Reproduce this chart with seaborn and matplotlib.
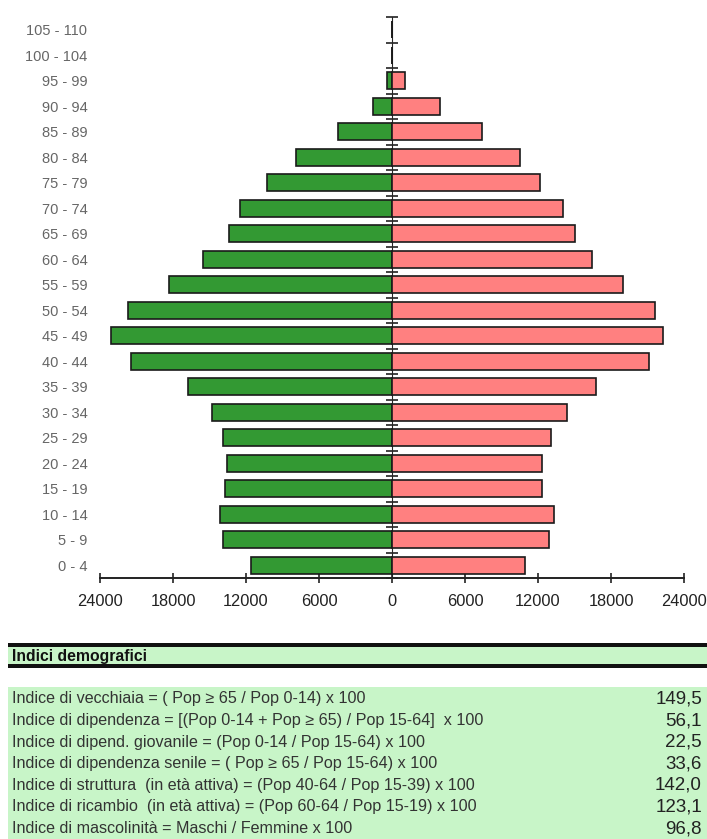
import pandas as pd
import matplotlib.pyplot as plt
import matplotlib.patches as patches
import seaborn as sns

# age classes, top to bottom
age_classes = ["105 - 110", "100 - 104", "95 - 99", "90 - 94", "85 - 89", "80 - 84",
               "75 - 79", "70 - 74", "65 - 69", "60 - 64", "55 - 59", "50 - 54",
               "45 - 49", "40 - 44", "35 - 39", "30 - 34", "25 - 29", "20 - 24",
               "15 - 19", "10 - 14", "5 - 9", "0 - 4"]
maschi = [0, 0, 410, 1560, 4440, 7890, 10270, 12490, 13390, 15530, 18320, 21700,
          23090, 21450, 16760, 14790, 13890, 13560, 13720, 14130, 13890, 11590]
femmine = [0, 0, 1085, 3930, 7380, 10500, 12150, 14070, 15000, 16450, 19000, 21600,
           22310, 21100, 16780, 14360, 13050, 12310, 12310, 13330, 12880, 10950]
x_ticks = [-24000, -18000, -12000, -6000, 0, 6000, 12000, 18000, 24000]

table_title = "Indici demografici"
index_labels = [
    "Indice di vecchiaia = ( Pop \u2265 65 / Pop 0-14) x 100",
    "Indice di dipendenza = [(Pop 0-14 + Pop \u2265 65) / Pop 15-64]  x 100",
    "Indice di dipend. giovanile = (Pop 0-14 / Pop 15-64) x 100",
    "Indice di dipendenza senile = ( Pop \u2265 65 / Pop 15-64) x 100",
    "Indice di struttura  (in età attiva) = (Pop 40-64 / Pop 15-39) x 100",
    "Indice di ricambio  (in età attiva) = (Pop 60-64 / Pop 15-19) x 100",
    "Indice di mascolinità = Maschi / Femmine x 100",
]
index_values = ["149,5", "56,1", "22,5", "33,6", "142,0", "123,1", "96,8"]

df = pd.DataFrame({"classe": age_classes,
                   "maschi": [-v for v in maschi],
                   "femmine": femmine})

sns.set_style("white")
plt.rcParams['font.family'] = ['Liberation Sans', 'DejaVu Sans']

W, H = 707, 839
fig = plt.figure(figsize=(W / 100, H / 100), dpi=100)
ax = fig.add_axes([100 / W, 1 - 578 / H, 584 / W, 561 / H])

sns.barplot(data=df, x="maschi", y="classe", order=age_classes, orient="h",
            color="#339933", saturation=1, width=0.67, edgecolor="#1a1a1a",
            linewidth=1.2, ax=ax)
sns.barplot(data=df, x="femmine", y="classe", order=age_classes, orient="h",
            color="#ff8080", saturation=1, width=0.67, edgecolor="#1a1a1a",
            linewidth=1.2, ax=ax)

ax.set_xlim(-24000, 24000)
ax.set_ylim(len(age_classes) - 0.5, -0.5)
ax.set_xlabel("")
ax.set_ylabel("")
ax.set_xticks(x_ticks)
ax.set_xticklabels([str(abs(t)) for t in x_ticks], fontsize=11.8, color="#222222")
ax.tick_params(axis="x", direction="inout", length=7.5, width=1.2, pad=8,
               bottom=True, color="#222222")
ax.tick_params(axis="y", length=0, pad=9, labelsize=10.5, labelcolor="#666666")
for s in ["top", "right", "left"]:
    ax.spines[s].set_visible(False)
ax.spines["bottom"].set_linewidth(1.4)
ax.spines["bottom"].set_color("#222222")

# vertical axis at zero with ticks at class boundaries
sec = ax.secondary_yaxis(0.5)
sec.set_yticks([i - 0.5 for i in range(len(age_classes) + 1)], labels=[])
sec.tick_params(direction="inout", length=9, width=1.2, color="#222222")
sec.spines["left"].set_linewidth(1.4)
sec.spines["left"].set_color("#222222")


def fy(py):
    return 1 - py / H


green = "#c8f5c8"
# header band
fig.patches.append(patches.Rectangle((8 / W, fy(664)), 1, 19 / H, transform=fig.transFigure,
                                     facecolor=green, edgecolor="none"))
fig.patches.append(patches.Rectangle((8 / W, fy(647)), 1, 4 / H, transform=fig.transFigure,
                                     facecolor="#111111", edgecolor="none"))
fig.patches.append(patches.Rectangle((8 / W, fy(668)), 1, 4.5 / H, transform=fig.transFigure,
                                     facecolor="#111111", edgecolor="none"))
fig.text(12 / W, fy(656), table_title, fontsize=11.3, fontweight="bold", color="#111111",
         va="center", ha="left")

# indices block
fig.patches.append(patches.Rectangle((8 / W, 0), 1, fy(687), transform=fig.transFigure,
                                     facecolor=green, edgecolor="none"))
for i, (lab, val) in enumerate(zip(index_labels, index_values)):
    y = fy(699 + i * 21.6)
    fig.text(12 / W, y, lab, fontsize=11.6, color="#333333", va="center", ha="left")
    fig.text(702 / W, y, val, fontsize=13.5, color="#222222", va="center", ha="right")

fig.savefig("out.png", dpi=100)
